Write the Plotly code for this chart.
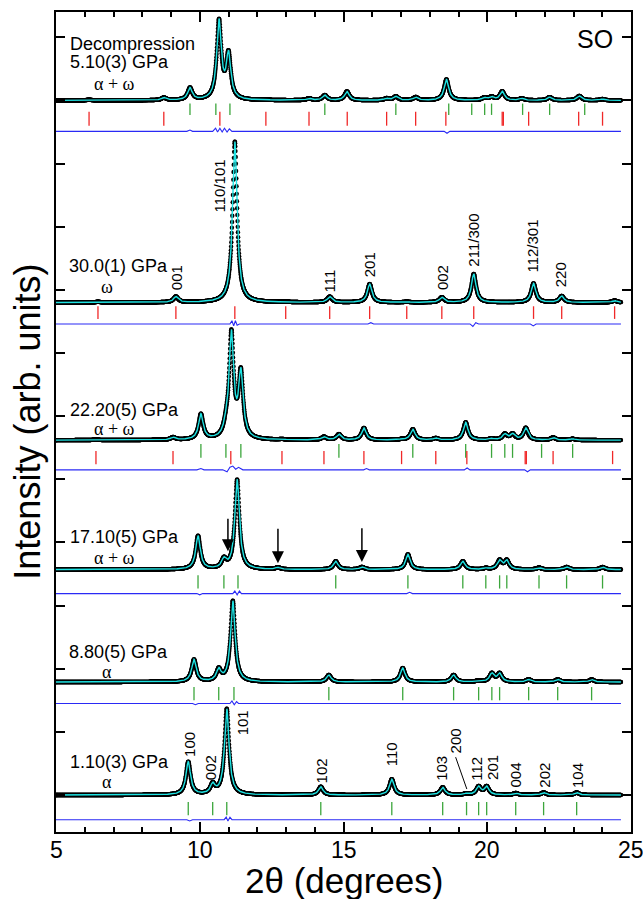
import numpy as np
import plotly.graph_objects as go

# ---------------- data ----------------
# peak positions (2theta, deg) and apparent heights (arb. units) per pattern
p1_pos = [6.15, 8.75, 9.66, 10.67, 11.00, 12.30, 13.80, 14.35, 15.12, 16.50, 16.82, 17.51, 18.58, 19.90, 20.15, 20.52, 21.20, 22.17, 23.20, 24.00]
p1_h   = [0.01, 0.04, 0.19, 1.24, 0.70, 0.01, 0.03, 0.08, 0.14, 0.03, 0.06, 0.05, 0.33, 0.04, 0.05, 0.14, 0.03, 0.05, 0.07, 0.02]

p2_pos = [6.46, 9.17, 11.22, 12.99, 14.52, 15.91, 17.20, 18.42, 19.53, 21.61, 22.59, 24.43]
p2_h   = [0.01, 0.09, 2.55, 0.01, 0.09, 0.29, 0.01, 0.08, 0.45, 0.30, 0.10, 0.03]

p3_pos = [6.39, 9.07, 10.04, 10.91, 11.10, 11.43, 12.86, 14.32, 14.84, 15.71, 17.02, 17.41, 18.21, 19.25, 20.15, 20.61, 20.88, 21.34, 22.29, 22.97]
p3_h   = [0.01, 0.04, 0.40, 0.12, 1.65, 1.02, 0.01, 0.05, 0.09, 0.19, 0.01, 0.17, 0.03, 0.28, 0.02, 0.09, 0.09, 0.19, 0.04, 0.02]

p4_pos = [9.94, 10.84, 11.30, 12.72, 14.73, 15.64, 17.24, 19.15, 19.95, 20.43, 20.68, 21.80, 22.76, 24.01]
p4_h   = [0.53, 0.14, 1.42, 0.03, 0.13, 0.04, 0.24, 0.13, 0.02, 0.14, 0.14, 0.03, 0.04, 0.04]

p5_pos = [9.80, 10.66, 11.15, 14.49, 17.06, 18.83, 19.70, 20.16, 20.43, 21.44, 22.45, 23.63]
p5_h   = [0.35, 0.18, 1.28, 0.11, 0.22, 0.11, 0.02, 0.13, 0.13, 0.04, 0.04, 0.04]

p6_pos = [9.60, 10.45, 10.94, 14.21, 16.68, 18.45, 19.28, 19.70, 19.98, 20.99, 21.96, 23.11]
p6_h   = [0.52, 0.15, 1.36, 0.13, 0.25, 0.12, 0.02, 0.13, 0.13, 0.03, 0.04, 0.04]

# Bragg reflection markers (2theta)
p1_alpha = [9.66, 10.56, 11.05, 14.35, 16.82, 18.66, 19.46, 19.91, 20.15, 21.23, 22.17, 23.39]
p1_omega = [6.15, 8.75, 10.70, 12.30, 13.80, 15.13, 16.50, 17.51, 18.56, 20.52, 20.56, 21.44, 23.18, 24.01]
p2_omega = [6.46, 9.17, 11.22, 12.99, 14.52, 15.91, 17.20, 18.42, 19.53, 21.61, 22.59, 24.43]
p3_alpha = [10.04, 10.91, 11.43, 14.84, 17.41, 19.25, 20.15, 20.61, 20.88, 21.89, 22.97]
p3_omega = [6.39, 9.07, 11.08, 12.86, 14.32, 15.71, 17.02, 18.21, 19.29, 21.32, 21.36, 22.29, 24.36]
p4_alpha = [9.94, 10.84, 11.33, 14.73, 17.24, 19.15, 19.95, 20.43, 20.68, 21.80, 22.76, 24.01]
p5_alpha = [9.80, 10.66, 11.19, 14.49, 17.06, 18.83, 19.70, 20.16, 20.43, 21.44, 22.45, 23.63]
p6_alpha = [9.60, 10.45, 10.94, 14.21, 16.68, 18.45, 19.28, 19.70, 19.98, 20.99, 21.96, 23.11]

# difference curves (obs - calc)
p1_dx = [5.0, 9.55, 9.66, 9.75, 10.45, 10.55, 10.62, 10.70, 10.78, 10.86, 10.95, 11.03, 11.12, 18.50, 18.60, 18.70, 24.65]
p1_dy = [0.0, 0.0, 0.02, 0.0, 0.0, 0.05, -0.01, 0.05, -0.01, 0.05, -0.01, 0.04, 0.0, 0.0, -0.03, 0.0, 0.0]
p2_dx = [5.0, 11.05, 11.12, 11.18, 11.24, 11.30, 11.38, 15.85, 15.95, 16.05, 19.40, 19.50, 19.60, 19.70, 21.50, 21.60, 21.70, 24.65]
p2_dy = [0.0, 0.0, 0.05, -0.03, 0.05, -0.02, 0.0, 0.0, 0.02, 0.0, 0.0, -0.04, 0.02, 0.0, 0.0, -0.03, 0.0, 0.0]
p3_dx = [5.0, 9.90, 10.04, 10.15, 10.80, 10.95, 11.05, 11.15, 11.25, 11.35, 11.50, 15.70, 15.80, 15.90, 19.20, 19.30, 19.40, 21.30, 21.40, 21.50, 24.65]
p3_dy = [0.0, 0.0, 0.02, 0.0, 0.0, -0.03, 0.04, 0.06, 0.01, 0.04, 0.0, 0.0, 0.02, 0.0, 0.0, 0.03, 0.0, 0.0, -0.03, 0.0, 0.0]
p4_dx = [5.0, 9.90, 10.00, 10.10, 11.15, 11.22, 11.30, 11.38, 11.45, 17.20, 17.30, 17.40, 24.65]
p4_dy = [0.0, 0.0, -0.02, 0.0, 0.0, 0.04, -0.02, 0.04, 0.0, 0.0, 0.02, 0.0, 0.0]
p5_dx = [5.0, 9.75, 9.85, 9.95, 11.05, 11.12, 11.20, 11.28, 11.35, 24.65]
p5_dy = [0.0, 0.0, -0.02, 0.0, 0.0, 0.04, -0.02, 0.03, 0.0, 0.0]
p6_dx = [5.0, 9.55, 9.65, 9.75, 10.85, 10.92, 10.98, 11.05, 11.12, 24.65]
p6_dy = [0.0, 0.0, -0.02, 0.0, 0.0, 0.04, -0.02, 0.04, 0.0, 0.0]

# texts
p1_label = ["Decompression", "5.10(3) GPa"]
p2_label = "30.0(1) GPa"
p3_label = "22.20(5) GPa"
p4_label = "17.10(5) GPa"
p5_label = "8.80(5) GPa"
p6_label = "1.10(3) GPa"
p2_hkl = ["001", "110/101", "111", "201", "002", "211/300", "112/301", "220"]
p2_hkl_x = [9.17, 10.70, 14.52, 15.91, 18.42, 19.53, 21.57, 22.55]
p6_hkl = ["100", "002", "101", "102", "110", "103", "200", "112", "201", "004", "202", "104"]
p6_hkl_x = [9.66, 10.40, 11.50, 14.25, 16.70, 18.40, 18.90, 19.62, 20.20, 21.00, 21.98, 23.14]
arrow_x = [10.98, 12.72, 15.64]
x_ticks = [5, 10, 15, 20, 25]

# ---------------- layout constants ----------------
BASE = [11.00, 7.80, 5.62, 3.57, 1.79, 0.00]
DIFF = [10.51, 7.46, 5.15, 3.19, 1.45, -0.39]
GREEN_Y = [(10.95, 10.77), None, (5.56, 5.34), (3.48, 3.27), (1.71, 1.50), (-0.11, -0.32)]
RED_Y = [(10.82, 10.60), (7.74, 7.54), (5.45, 5.24), None, None, None]
FWHM = 0.19
X_END = 24.65

C_CYAN = "#1ee3e3"
C_GREEN = "#3ca63c"
C_RED = "#f02828"
C_BLUE = "#2a2af5"
FONT = "Liberation Sans, Arial, sans-serif"
SERIF = "Liberation Serif, Times New Roman, serif"

grid = np.arange(5.0, X_END + 1e-9, 0.007)


def profile(pos, h):
    y = np.zeros_like(grid)
    hw = FWHM / 2
    for p, a in zip(pos, h):
        y += a / (1 + ((grid - p) / hw) ** 2)
    return y


def ticks(xs, y0, y1):
    X, Y = [], []
    for x in xs:
        X += [x, x, None]
        Y += [y0, y1, None]
    return X, Y


fig = go.Figure()

pats = [(p1_pos, p1_h), (p2_pos, p2_h), (p3_pos, p3_h), (p4_pos, p4_h), (p5_pos, p5_h), (p6_pos, p6_h)]
diffs = [(p1_dx, p1_dy), (p2_dx, p2_dy), (p3_dx, p3_dy), (p4_dx, p4_dy), (p5_dx, p5_dy), (p6_dx, p6_dy)]
greens = [p1_alpha, None, p3_alpha, p4_alpha, p5_alpha, p6_alpha]
reds = [p1_omega, p2_omega, p3_omega, None, None, None]

for i in range(6):
    dx, dy = diffs[i]
    fig.add_trace(go.Scatter(x=dx, y=[DIFF[i] + v for v in dy], mode="lines",
                             line=dict(color=C_BLUE, width=1.1), hoverinfo="skip"))
    if greens[i] is not None:
        X, Y = ticks(greens[i], *GREEN_Y[i])
        fig.add_trace(go.Scatter(x=X, y=Y, mode="lines", line=dict(color=C_GREEN, width=1.3), hoverinfo="skip"))
    if reds[i] is not None:
        X, Y = ticks(reds[i], *RED_Y[i])
        fig.add_trace(go.Scatter(x=X, y=Y, mode="lines", line=dict(color=C_RED, width=1.3), hoverinfo="skip"))

for i in range(6):
    pos, h = pats[i]
    yy = BASE[i] + profile(pos, h)
    fig.add_trace(go.Scatter(x=grid, y=yy, mode="markers",
                             marker=dict(color="black", size=4.4, line=dict(width=0)), hoverinfo="skip"))
    fig.add_trace(go.Scatter(x=grid, y=yy, mode="lines",
                             line=dict(color=C_CYAN, width=1.4), hoverinfo="skip"))

ann = []


def txt(x, y, s, size=18, font=FONT, xanchor="left", angle=0, yanchor="middle"):
    ann.append(dict(x=x, y=y, xref="x", yref="y", text=s, showarrow=False,
                    xanchor=xanchor, yanchor=yanchor, textangle=angle,
                    font=dict(family=font, size=size, color="black")))


# sample labels
txt(5.40, 11.90, p1_label[0])
txt(5.40, 11.61, p1_label[1])
txt(7.02, 11.26, "α + ω", font=SERIF, xanchor="center", size=18)
txt(5.38, 8.37, p2_label)
txt(6.77, 8.05, "ω", font=SERIF, xanchor="center", size=18)
txt(5.42, 6.10, p3_label)
txt(7.05, 5.79, "α + ω", font=SERIF, xanchor="center", size=18)
txt(5.42, 4.08, p4_label)
txt(7.05, 3.76, "α + ω", font=SERIF, xanchor="center", size=18)
txt(5.38, 2.26, p5_label)
txt(6.77, 1.95, "α", font=SERIF, xanchor="center", size=18)
txt(5.42, 0.53, p6_label)
txt(6.77, 0.21, "α", font=SERIF, xanchor="center", size=18)
txt(24.45, 11.97, "SO", size=25, xanchor="right")

# hkl labels
p2_hkl_y = [7.97, 9.20, 7.93, 8.17, 7.97, 8.34, 8.24, 8.01]
for s, x, y in zip(p2_hkl, p2_hkl_x, p2_hkl_y):
    txt(x, y, s, size=15, xanchor="center", angle=-90, yanchor="bottom")
p6_hkl_y = [0.58, 0.20, 0.92, 0.16, 0.43, 0.19, 0.63, 0.20, 0.20, 0.08, 0.08, 0.08]
for s, x, y in zip(p6_hkl, p6_hkl_x, p6_hkl_y):
    txt(x, y, s, size=15, xanchor="center", angle=-90, yanchor="bottom")

# arrows
arrow_tip = [3.86, 3.67, 3.69]
arrow_tail = [4.40, 4.24, 4.25]
for x, t, b in zip(arrow_x, arrow_tip, arrow_tail):
    ann.append(dict(x=x, y=t, ax=x, ay=b, xref="x", yref="y", axref="x", ayref="y",
                    showarrow=True, arrowhead=2, arrowsize=1.6, arrowwidth=1.5,
                    arrowcolor="black", text=""))

# x tick labels (placed as text just under the axis)
for v in x_ticks:
    ann.append(dict(x=v, y=-0.0225, xref="x", yref="paper", text=str(v), showarrow=False,
                    xanchor="center", yanchor="middle",
                    font=dict(family=FONT, size=23, color="black")))

# axis titles
ann.append(dict(x=-0.051, y=0.5, xref="paper", yref="paper", text="Intensity (arb. units)",
                textangle=-90, showarrow=False, xanchor="center", yanchor="middle",
                font=dict(family=FONT, size=36, color="black")))
ann.append(dict(x=0.5, y=-0.0595, xref="paper", yref="paper", text="2θ (degrees)",
                showarrow=False, xanchor="center", yanchor="middle",
                font=dict(family=FONT, size=35, color="black")))

fig.add_shape(type="line", x0=18.9, y0=0.60, x1=19.29, y1=0.095, xref="x", yref="y",
              line=dict(color="black", width=1))

fig.update_layout(
    width=643, height=899,
    margin=dict(l=56, r=12, t=10, b=67),
    paper_bgcolor="white", plot_bgcolor="white",
    showlegend=False,
    annotations=ann,
    font=dict(family=FONT, color="black"),
    xaxis=dict(range=[5, 25], tickvals=x_ticks, ticks="inside", ticklen=10, tickwidth=2,
               tickcolor="black", showline=True, linewidth=2, linecolor="black",
               showticklabels=False,
               mirror="allticks", showgrid=False, zeroline=False,
               minor=dict(dtick=1, ticks="inside", ticklen=5, tickwidth=1.5, tickcolor="black",
                          showgrid=False)),
    yaxis=dict(range=[-0.585, 12.40], tickvals=list(range(13)), ticks="inside", ticklen=9,
               tickwidth=2, tickcolor="black", showticklabels=False, showline=True,
               linewidth=2, linecolor="black", mirror="allticks", showgrid=False, zeroline=False),
)

fig.write_html("out.html", config={"displayModeBar": False},
               post_script="document.body.style.margin='0px';document.body.style.overflow='hidden';")
